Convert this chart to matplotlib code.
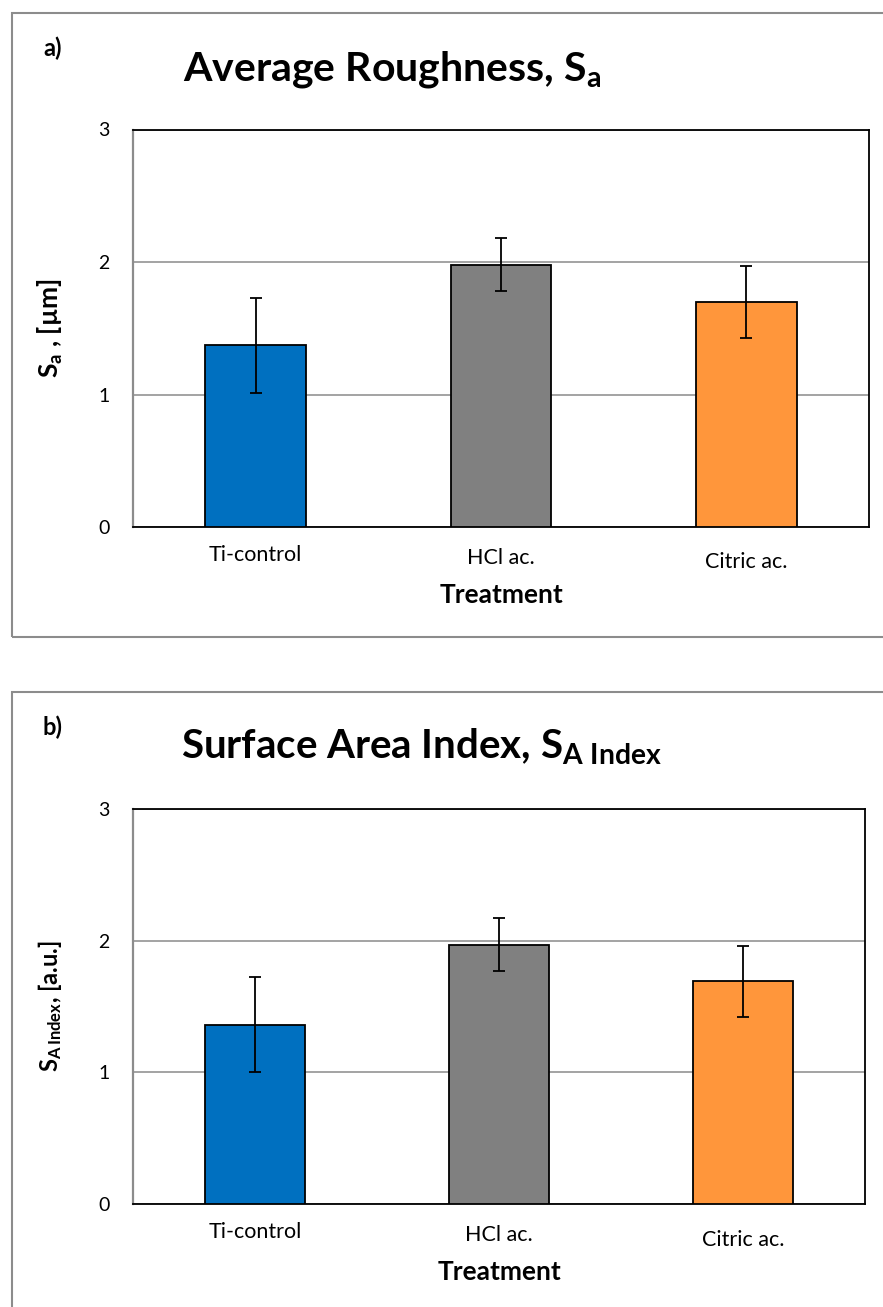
import matplotlib
matplotlib.use('Agg')
import matplotlib.pyplot as plt
import matplotlib.transforms as mtrans
from matplotlib.patches import Rectangle
import numpy as np

##############
### inputs ###
##############

treatments = ['Ti-control', 'HCl ac.', 'Citric ac.']
bar_colors = ['#0070C0', '#808080', '#FF963B']

# a) average roughness Sa [um]
sa_mean = [1.37, 1.98, 1.70]
sa_err = [0.36, 0.20, 0.27]

# b) surface area index [a.u.]
sai_mean = [1.36, 1.97, 1.69]
sai_err = [0.36, 0.20, 0.27]

yticks = [0, 1, 2, 3]

W, H = 883, 1307  # figure size in pixels

plt.rcParams['font.family'] = ['Lato', 'DejaVu Sans']
plt.rcParams['mathtext.default'] = 'regular'


def px(x, y):
    # pixel position (from top-left) -> figure fraction
    return x / W, 1 - y / H


def draw_panel(ax, means, errs, ylabel, ylabel_size, lab_shift):
    x = np.arange(len(treatments))
    ax.bar(x, means, width=0.41, color=bar_colors, edgecolor='black',
           linewidth=1.3, yerr=errs, zorder=3,
           error_kw=dict(ecolor='black', elinewidth=1.3, capsize=4.3, capthick=1.3))
    ax.set_xlim(-0.5, len(treatments) - 0.5)
    ax.set_ylim(0, 3)
    ax.set_yticks(yticks)
    ax.set_xticks(x, treatments)
    ax.yaxis.grid(True, color='#a3a3a3', linewidth=1.4)
    ax.set_axisbelow(True)
    ax.tick_params(axis='y', length=0, labelsize=14, pad=17)
    ax.tick_params(axis='x', length=0, labelsize=15.5, pad=13)
    for side in ['top', 'right', 'bottom']:
        ax.spines[side].set_color('black')
        ax.spines[side].set_linewidth(1.3)
    ax.spines['left'].set_color('#8c8c8c')
    ax.spines['left'].set_linewidth(1.6)
    # the category labels are not all on one line in the original
    for lab, dy in zip(ax.get_xticklabels(), lab_shift):
        off = mtrans.ScaledTranslation(0, -dy / 100, fig.dpi_scale_trans)
        lab.set_transform(lab.get_transform() + off)
    bbox = ax.get_position()
    h_px = bbox.height * H
    w_px = bbox.width * W
    ax.set_xlabel('Treatment', fontsize=19, fontweight='bold')
    ax.xaxis.set_label_coords(0.5, -56 / h_px)
    ax.set_ylabel(ylabel, fontsize=ylabel_size, fontweight='bold', va='center')
    ax.yaxis.set_label_coords(-83 / w_px, 0.5)


fig = plt.figure(figsize=(W / 100, H / 100), dpi=100)

# grey frames round the two charts
fig.patches.append(Rectangle(px(12, 637), (W + 10) / W, 624 / H,
                             transform=fig.transFigure, fill=False,
                             edgecolor='#8c8c8c', linewidth=1.5))
fig.patches.append(Rectangle(px(12, H + 10), (W + 10) / W, (H + 10 - 692) / H,
                             transform=fig.transFigure, fill=False,
                             edgecolor='#8c8c8c', linewidth=1.5))

ax_a = fig.add_axes([133 / W, 1 - 527 / H, 736 / W, 397.5 / H])
draw_panel(ax_a, sa_mean, sa_err, 'S$_a$ , [µm]', 19, [0, 3, 7])
fig.text(*px(43, 56), 'a)', fontsize=17, fontweight='bold', va='baseline')
fig.text(*px(183, 80), 'Average Roughness, S$_a$', fontsize=29.5,
         fontweight='bold', va='baseline')

ax_b = fig.add_axes([133 / W, 1 - 1203.7 / H, 732 / W, 394.7 / H])
draw_panel(ax_b, sai_mean, sai_err, r'S$_{A\,Index}$, [a.u.]', 17, [0, 3, 8])
fig.text(*px(43, 735), 'b)', fontsize=17, fontweight='bold', va='baseline')
fig.text(*px(181, 759), r'Surface Area Index, S$_{A\;Index}$', fontsize=29,
         fontweight='bold', va='baseline')

fig.savefig('out.png', dpi=100)
